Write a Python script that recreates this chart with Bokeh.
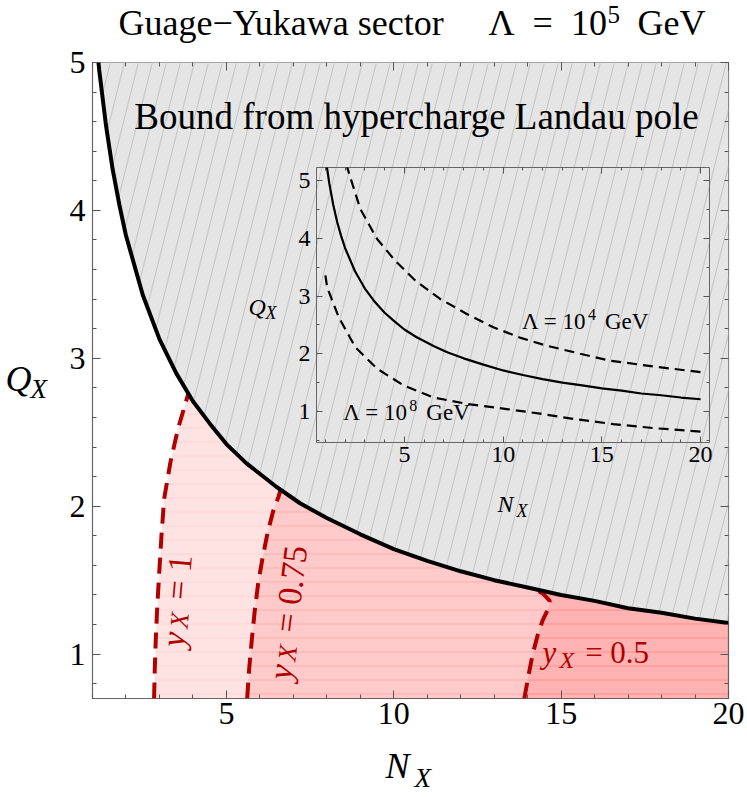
import math
import base64
from bokeh.plotting import figure
from bokeh.models import Range1d, LinearAxis, SingleIntervalTicker, Label, ImageURLTexture
from bokeh.layouts import column
from bokeh.embed import file_html
from bokeh.resources import INLINE

# ---------------- data ----------------
# Landau-pole bound, Lambda = 1e5 GeV
N_bound = [1.0, 1.2, 1.4, 1.6, 1.8, 2.0, 2.5, 3.0, 3.5, 4.0, 4.5, 5.0, 5.6, 6.5, 7.2,
           8.0, 9.0, 10.0, 11.0, 12.0, 13.0, 14.0, 15.0, 16.0, 17.0, 18.0, 19.0, 20.0]
Q_bound = [5.42, 4.95, 4.58, 4.28, 4.04, 3.83, 3.43, 3.13, 2.90, 2.71, 2.56, 2.42, 2.29, 2.13, 2.02,
           1.92, 1.81, 1.71, 1.63, 1.56, 1.50, 1.45, 1.40, 1.36, 1.31, 1.28, 1.24, 1.21]

# inset: Lambda = 1e4 GeV (upper dashed) and 1e8 GeV (lower dashed)
N_hi = [2.05, 2.77, 3.62, 4.54, 5.55, 6.81, 8.16, 9.50, 10.85, 12.2, 13.9, 15.4, 17.6, 20.0]
Q_hi = [5.29, 4.51, 3.99, 3.61, 3.27, 2.95, 2.69, 2.46, 2.28, 2.14, 2.00, 1.88, 1.78, 1.68]
N_lo = [1.0, 1.09, 1.68, 2.52, 3.62, 4.96, 6.47, 8.16, 10.18, 11.86, 13.54, 15.57, 17.6, 20.0]
Q_lo = [3.36, 3.15, 2.63, 2.11, 1.74, 1.45, 1.24, 1.13, 1.04, 0.96, 0.87, 0.78, 0.71, 0.65]

# y_X contours
N_y100 = [2.84, 2.86, 2.89, 2.93, 2.98, 3.06, 3.14, 3.33, 3.55, 3.86]
Q_y100 = [0.70, 0.90, 1.10, 1.30, 1.50, 1.80, 2.05, 2.30, 2.52, 2.76]
N_y075 = [5.62, 5.68, 5.76, 5.85, 5.95, 6.08, 6.23, 6.40, 6.55, 6.62]
Q_y075 = [0.70, 0.90, 1.10, 1.30, 1.48, 1.65, 1.82, 1.97, 2.06, 2.11]
N_y050 = [13.90, 14.02, 14.15, 14.30, 14.45, 14.62, 14.66, 14.45, 14.22]
Q_y050 = [0.70, 0.85, 1.00, 1.13, 1.23, 1.31, 1.36, 1.41, 1.44]

contours = [("1", N_y100, Q_y100), ("0.75", N_y075, Q_y075), ("0.5", N_y050, Q_y050)]

FONT = "Liberation Serif"
RED = "#b00000"
W, H = 747, 797


def lift_of(size):
    # compensation for where the renderer puts the alphabetic baseline
    return 0.35 * size + 1.5


def seg_label(fig, x, y, pieces, angle_deg=0.0, color="black", fix=True):
    a = math.radians(angle_deg)
    d = 0.0
    for text, size, italic, drop, adv in pieces:
        lf = lift_of(size) if fix else 0.0
        xo = d * math.cos(a) + drop * math.sin(a) - lf * math.sin(a)
        yo = d * math.sin(a) - drop * math.cos(a) + lf * math.cos(a)
        fig.add_layout(Label(x=x, y=y, x_offset=xo, y_offset=yo, text=text, angle=a,
                             text_font=FONT, text_font_size=f"{size}px",
                             text_font_style="italic" if italic else "normal",
                             text_color=color, text_align="left",
                             text_baseline="alphabetic"))
        d += adv


def style_axis(ax, ticker, size, show=True, tin=8, mtin=4, standoff=6):
    ax.ticker = ticker
    ax.axis_line_color = None
    ax.major_tick_in = tin
    ax.major_tick_out = 0
    ax.minor_tick_in = mtin
    ax.minor_tick_out = 0
    ax.major_tick_line_color = "#555555"
    ax.minor_tick_line_color = "#555555"
    ax.major_label_text_font = FONT
    if show:
        ax.major_label_text_font_size = f"{size}px"
        ax.major_label_standoff = standoff
        ax.major_label_text_color = "black"
    else:
        ax.major_label_text_font_size = "1px"
        ax.major_label_standoff = 0
        ax.major_label_text_color = None


# ---------------- main figure ----------------
p = figure(width=W, height=H, x_range=Range1d(1, 20), y_range=Range1d(0.7, 5.0),
           output_backend="svg", toolbar_location=None, frame_align=False,
           min_border_left=92, min_border_right=19, min_border_top=62, min_border_bottom=99)
p.grid.visible = False
p.outline_line_color = "#666666"
p.outline_line_width = 1.2
p.background_fill_color = "white"
p.border_fill_color = "white"

style_axis(p.xaxis[0], SingleIntervalTicker(interval=5, num_minor_ticks=5), 32, standoff=4)
style_axis(p.yaxis[0], SingleIntervalTicker(interval=1, num_minor_ticks=5), 32, standoff=7)
top_ax = LinearAxis()
style_axis(top_ax, SingleIntervalTicker(interval=5, num_minor_ticks=5), 1, show=False)
p.add_layout(top_ax, "above")
right_ax = LinearAxis()
style_axis(right_ax, SingleIntervalTicker(interval=1, num_minor_ticks=5), 1, show=False)
p.add_layout(right_ax, "right")

# hatched grey excluded region
svg_tile = ("<svg xmlns='http://www.w3.org/2000/svg' width='14' height='56'>"
            "<g stroke='#c4c4c4' stroke-width='1'>"
            "<line x1='-14' y1='56' x2='0' y2='0'/>"
            "<line x1='0' y1='56' x2='14' y2='0'/>"
            "<line x1='14' y1='56' x2='28' y2='0'/>"
            "</g></svg>")
tex = ImageURLTexture(url="data:image/svg+xml;base64," + base64.b64encode(svg_tile.encode()).decode(),
                      repetition="repeat")
p.varea(x=N_bound, y1=Q_bound, y2=5.3, fill_color="#e5e5e5",
        hatch_pattern=dict(value="steep"), hatch_extra={"steep": tex})

# pink allowed regions (right of each contour, below the bound)
for name, Nc, Qc in contours:
    xs = list(Nc)
    ys = list(Qc)
    for n, q in zip(N_bound, Q_bound):
        if n > Nc[-1]:
            xs.append(n)
            ys.append(q)
    xs += [N_bound[-1], Nc[0]]
    ys += [0.6, 0.6]
    p.patch(xs, ys, fill_color="#ff0000", fill_alpha=0.11, line_color=None,
            hatch_pattern="horizontal_line", hatch_color="#ff0000", hatch_alpha=0.07,
            hatch_weight=1, hatch_scale=14)

for name, Nc, Qc in contours:
    p.line(Nc, Qc, line_color=RED, line_width=4, line_dash="16 9")

p.line(N_bound, Q_bound, line_color="black", line_width=4)

seg_label(p, 10.68, 4.534, [])  # placeholder no-op
p.add_layout(Label(x=10.68, y=4.534, y_offset=lift_of(37), text="Bound from hypercharge Landau pole",
                   text_font=FONT, text_font_size="37px", text_align="center",
                   text_color="black", text_baseline="alphabetic"))

# rotated y_X labels and horizontal one
seg_label(p, 3.39, 1.05, [("y", 34, True, 0, 19), ("X", 26, True, 5, 20),
                          ("\u00a0=\u00a01", 34, False, 0, 0)], angle_deg=85, color=RED, fix=False)
seg_label(p, 6.59, 0.83, [("y", 34, True, 0, 19), ("X", 26, True, 5, 20),
                          ("\u00a0=\u00a00.75", 34, False, 0, 0)], angle_deg=83, color=RED, fix=False)
seg_label(p, 14.44, 0.93, [("y", 31, True, 0, 17), ("X", 24, True, 5, 18),
                           ("\u00a0=\u00a00.5", 31, False, 0, 0)], angle_deg=0, color=RED)

# ---------------- inset figure ----------------
ins = figure(width=480, height=380, x_range=Range1d(0.55, 20.45), y_range=Range1d(0.46, 5.23),
             output_backend="svg", toolbar_location=None, frame_align=False,
             min_border_left=76, min_border_right=11, min_border_top=17, min_border_bottom=88)
ins.grid.visible = False
ins.outline_line_color = "#666666"
ins.background_fill_alpha = 0
ins.border_fill_alpha = 0
style_axis(ins.xaxis[0], SingleIntervalTicker(interval=5, num_minor_ticks=5), 24, tin=6, mtin=3, standoff=4)
style_axis(ins.yaxis[0], SingleIntervalTicker(interval=1, num_minor_ticks=2), 24, tin=6, mtin=3, standoff=6)
it = LinearAxis()
style_axis(it, SingleIntervalTicker(interval=5, num_minor_ticks=5), 1, show=False, tin=6, mtin=3)
ins.add_layout(it, "above")
ir = LinearAxis()
style_axis(ir, SingleIntervalTicker(interval=1, num_minor_ticks=2), 1, show=False, tin=6, mtin=3)
ins.add_layout(ir, "right")

ins.line(N_bound, Q_bound, line_color="black", line_width=2.2)
ins.line(N_hi, Q_hi, line_color="black", line_width=2.2, line_dash="10 6")
ins.line(N_lo, Q_lo, line_color="black", line_width=2.2, line_dash="10 6")

seg_label(ins, 10.95, 2.40, [("\u039b = 10", 23, False, 0, 66), ("4", 16, False, -9, 17),
                             ("GeV", 23, False, 0, 0)])
seg_label(ins, 1.91, 0.82, [("\u039b = 10", 23, False, 0, 66), ("8", 16, False, -9, 17),
                            ("GeV", 23, False, 0, 0)])
ins.styles = {"position": "absolute", "left": "240px", "top": "150px"}

# ---------------- text overlay (titles and axis names, page pixel frame) ----------------
txt = figure(width=W, height=H, x_range=Range1d(0, W), y_range=Range1d(H, 0),
             output_backend="svg", toolbar_location=None, title=None, frame_align=False,
             x_axis_location=None, y_axis_location=None, min_border=0)
txt.grid.visible = False
txt.outline_line_color = None
txt.background_fill_alpha = 0
txt.border_fill_alpha = 0
txt.styles = {"position": "absolute", "left": "0px", "top": "0px"}


def tlabel(x, y, text, size, italic=False, align="left"):
    txt.add_layout(Label(x=x, y=y - lift_of(size), text=text, text_font=FONT,
                         text_font_size=f"{size}px",
                         text_font_style="italic" if italic else "normal", text_color="black",
                         text_align=align, text_baseline="alphabetic"))


# title
tlabel(118, 37, "Guage\u2212Yukawa sector", 36)
tlabel(488, 37, "\u039b\u2002=\u200210", 36)
tlabel(607, 24, "5", 25)
tlabel(637, 37, "GeV", 36)
# main axis names
tlabel(385, 780, "N", 36, True)
tlabel(414, 788, "X", 27, True)
tlabel(5, 393, "Q", 36, True)
tlabel(30, 399, "X", 27, True)
# inset axis names
tlabel(248, 316, "Q", 24, True)
tlabel(265, 320, "X", 18, True)
tlabel(497, 513, "N", 24, True)
tlabel(516, 518, "X", 18, True)

layout = column(p, ins, txt, styles={"position": "relative"})

open("out.html", "w").write(file_html(layout, INLINE))
